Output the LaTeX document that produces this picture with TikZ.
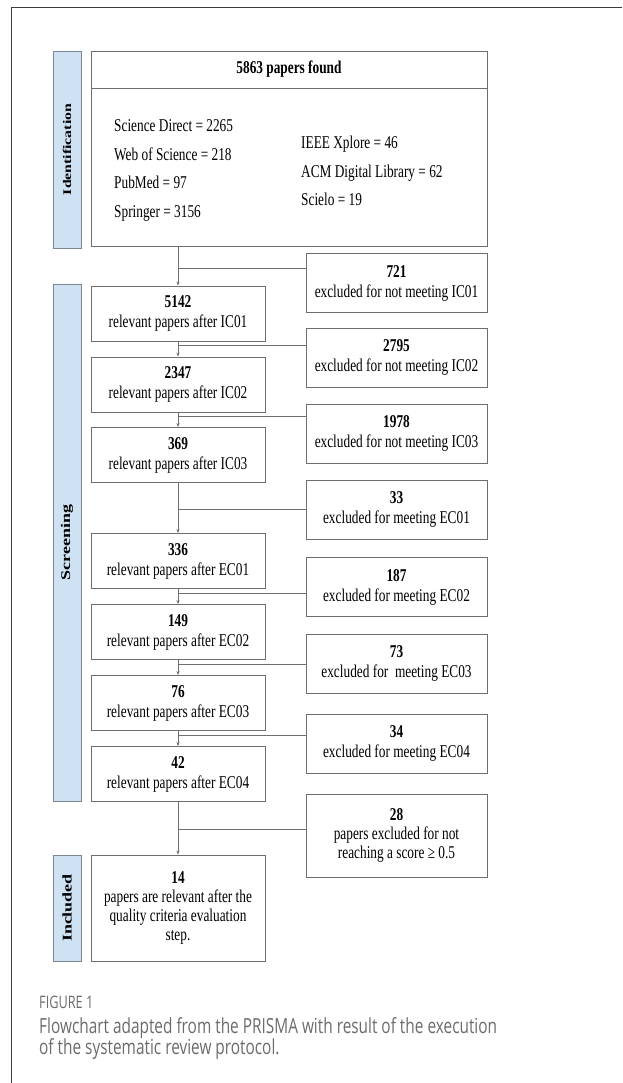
\documentclass[tikz,border=0pt]{standalone}
\usepackage{fontspec}
\usetikzlibrary{arrows.meta}
\setmainfont{Liberation Serif}
\newfontfamily\boxfont[FakeStretch=0.74]{Liberation Serif}
\newfontfamily\sidefont[FakeStretch=1.35]{Liberation Serif}
\newfontfamily\capfont[FakeStretch=0.74]{Open Sans}
\definecolor{linegray}{HTML}{6E6E6E}
\definecolor{framegray}{HTML}{3C3C3C}
\definecolor{sideblue}{HTML}{CFE2F3}
\definecolor{sideedge}{HTML}{7D8793}
\definecolor{capgray}{HTML}{6B6B6B}

\begin{document}
\begin{tikzpicture}[x=1pt,y=-1pt,
    box/.style={draw=linegray,line width=0.9pt,align=center,inner sep=0pt,
      font=\boxfont\fontsize{18}{20}\selectfont},
    mainbox/.style={box,minimum width=174pt,minimum height=55pt},
    exbox/.style={box,minimum width=181pt,minimum height=59pt},
    side/.style={draw=sideedge,fill=sideblue,line width=0.9pt,rotate=90,
      minimum height=28pt,inner sep=0pt,
      font=\sidefont\bfseries\fontsize{13.3}{14}\selectfont},
    dblist/.style={anchor=west,align=left,inner sep=0pt,
      font=\boxfont\fontsize{18}{28.5}\selectfont},
    flow/.style={draw=linegray,line width=0.9pt,-{Stealth[length=4pt,width=3.2pt]}},
    branch/.style={draw=linegray,line width=0.9pt}]
    \useasboundingbox (0,0) rectangle (622,1083);

    % frame of the figure
    \coordinate (ftr) at (622,7);
    \coordinate (ftl) at (11,7);
    \coordinate (fbl) at (11,1083);
    \draw[framegray,line width=0.9pt] (ftr) -- (ftl) -- (fbl);

    % stage labels
    \node[side,minimum width=197pt,font=\sidefont\bfseries\fontsize{11.7}{13}\selectfont] (ident) at (67,149.5) {Identification};
    \node[side,minimum width=517pt] (screen) at (67,542.5) {Screening};
    \node[side,minimum width=106pt] (incl) at (67,908) {Included};

    % identification
    \node[box,minimum width=396pt,minimum height=37pt] (found) at (289,69.5) {\textbf{5863 papers found}};
    \node[box,minimum width=396pt,minimum height=158pt] (sources) at (289,167) {};
    \node[dblist] (dbleft) at (114,170.5) {Science Direct = 2265\\Web of Science = 218\\PubMed = 97\\Springer = 3156};
    \node[dblist] (dbright) at (301,171) {IEEE Xplore = 46\\ACM Digital Library = 62\\Scielo = 19};

    % screening, left column
    \node[mainbox] (b1) at (178,313.5) {\textbf{5142}\\relevant papers after IC01};
    \node[mainbox] (b2) at (178,384.5) {\textbf{2347}\\relevant papers after IC02};
    \node[mainbox] (b3) at (178,455) {\textbf{369}\\relevant papers after IC03};
    \node[mainbox] (b4) at (178,561) {\textbf{336}\\relevant papers after EC01};
    \node[mainbox] (b5) at (178,632) {\textbf{149}\\relevant papers after EC02};
    \node[mainbox] (b6) at (178,703) {\textbf{76}\\relevant papers after EC03};
    \node[mainbox] (b7) at (178,774) {\textbf{42}\\relevant papers after EC04};
    \node[mainbox,minimum height=106pt,font=\boxfont\fontsize{18}{19.3}\selectfont] (b8) at (178,908) {\textbf{14}\\papers are relevant after the\\quality criteria evaluation\\step.};

    % excluded, right column
    \node[exbox] (e1) at (396.5,283) {\textbf{721}\\excluded for not meeting IC01};
    \node[exbox] (e2) at (396.5,357.5) {\textbf{2795}\\excluded for not meeting IC02};
    \node[exbox] (e3) at (396.5,433.5) {\textbf{1978}\\excluded for not meeting IC03};
    \node[exbox] (e4) at (396.5,509.5) {\textbf{33}\\excluded for meeting EC01};
    \node[exbox] (e5) at (396.5,587) {\textbf{187}\\excluded for meeting EC02};
    \node[exbox] (e6) at (396.5,663.5) {\textbf{73}\\excluded for \ meeting EC03};
    \node[exbox] (e7) at (396.5,743.5) {\textbf{34}\\excluded for meeting EC04};
    \node[exbox,minimum height=83pt,font=\boxfont\fontsize{18}{19.3}\selectfont] (e8) at (396.5,835.5) {\textbf{28}\\papers excluded for not\\reaching a score ≥ 0.5};

    % flow and branches
    \foreach \a/\b/\e/\y in {sources/b1/e1/268, b1/b2/e2/345, b2/b3/e3/416, b3/b4/e4/509,
        b4/b5/e5/593, b5/b6/e6/664, b6/b7/e7/735, b7/b8/e8/829} {
      \draw[flow] (\b.north |- \a.south) -- (\b.north);
      \coordinate (j\b) at (178,\y);
      \draw[branch] (j\b) -- (j\b -| \e.west);
    }

    % caption
    \node[anchor=base west,inner sep=0pt,text=capgray,font=\capfont\fontsize{17.2}{20}\selectfont] (figno) at (39,1008) {FIGURE 1};
    \node[anchor=base west,inner sep=0pt,text=capgray,font=\capfont\fontsize{20.8}{21.5}\selectfont] (cap1) at (39,1033) {Flowchart adapted from the PRISMA with result of the execution};
    \node[anchor=base west,inner sep=0pt,text=capgray,font=\capfont\fontsize{20.8}{21.5}\selectfont] (cap2) at (39,1054.5) {of the systematic review protocol.};
\end{tikzpicture}
\end{document}
